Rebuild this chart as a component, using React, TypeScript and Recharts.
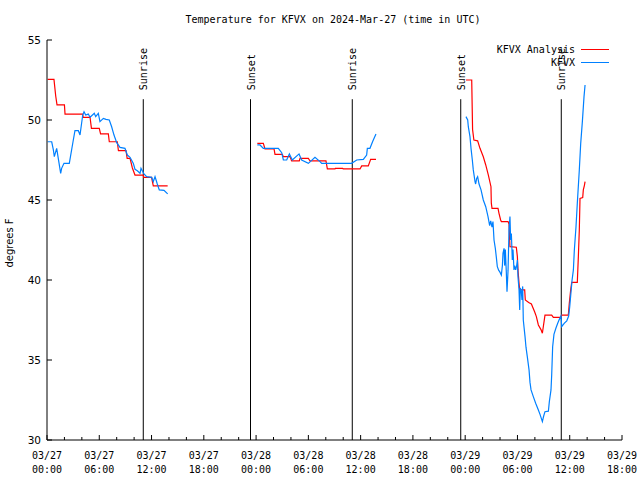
import React from "react"
import { LineChart, Line, XAxis, YAxis, ReferenceLine, Customized } from "recharts"

// [hour since 03/27 00:00 UTC, temperature °F]
const analysisDay1: [number, number][] = [
  [0.08, 52.54], [0.8, 52.54], [1.0, 51.5], [1.15, 50.94], [2.0, 50.94], [2.07, 50.37],
  [4.1, 50.37], [4.15, 50.17], [4.94, 50.17], [5.1, 49.48], [6.0, 49.48], [6.15, 49.13],
  [7.04, 49.13], [7.15, 48.64], [8.07, 48.64], [8.2, 48.08], [9.07, 48.08], [9.2, 47.6],
  [9.53, 47.6], [9.8, 47.0], [10.1, 46.56], [11.05, 46.56], [11.1, 46.42], [12.0, 46.42],
  [12.2, 45.88], [13.85, 45.88],
]
const analysisDay2: [number, number][] = [
  [24.14, 48.54], [24.83, 48.54], [25.02, 48.19], [26.06, 48.19], [26.17, 47.85], [27.01, 47.85],
  [27.13, 47.71], [27.89, 47.71], [28.08, 47.44], [28.96, 47.44], [29.04, 47.6], [30.0, 47.6],
  [30.19, 47.44], [32.02, 47.44], [32.18, 46.94], [33.06, 46.94], [33.1, 46.98], [33.94, 46.98],
  [34.0, 46.94], [35.93, 46.94], [36.12, 47.13], [36.88, 47.13], [37.15, 47.54], [37.76, 47.54],
]
const analysisDay3: [number, number][] = [
  [48.09, 52.5], [48.75, 52.5], [48.85, 49.4], [49.0, 48.75], [49.43, 48.7], [49.7, 48.23],
  [50.08, 47.7], [50.36, 47.19], [50.66, 46.56], [50.96, 45.83], [51.0, 44.8], [51.08, 44.48],
  [51.77, 44.48], [51.88, 44.17], [52.07, 43.75], [52.15, 43.65], [52.92, 43.65], [53.03, 43.5],
  [53.14, 42.08], [53.87, 42.05], [53.99, 41.46], [54.06, 40.63], [54.18, 39.8], [54.26, 39.38],
  [54.83, 39.38], [54.9, 38.75], [55.29, 38.6], [55.6, 38.5], [55.98, 38.0], [56.17, 37.71],
  [56.4, 37.19], [56.7, 36.9], [56.86, 36.67], [57.16, 37.81], [57.93, 37.81], [58.12, 37.67],
  [59.0, 37.67], [59.08, 37.81], [59.84, 37.81], [59.95, 38.54], [60.11, 39.38], [60.23, 39.85],
  [60.87, 39.85], [60.99, 41.46], [61.1, 43.13], [61.18, 45.1], [61.49, 45.15], [61.56, 45.63],
  [61.68, 45.9], [61.76, 46.15],
]

const obsDay1: [number, number][] = [
  [0.08, 48.64], [0.54, 48.64], [0.73, 48.13], [0.84, 47.71], [1.11, 48.23], [1.57, 46.67],
  [1.68, 46.98], [1.95, 47.29], [2.56, 47.29], [3.02, 48.75], [3.21, 49.33], [3.6, 49.33],
  [3.79, 49.06], [4.1, 50.31], [4.25, 50.52], [4.44, 50.31], [4.74, 50.37], [4.94, 50.17],
  [5.43, 50.42], [5.59, 50.21], [5.89, 50.42], [6.08, 49.9], [6.47, 50.1], [6.77, 50.04],
  [7.15, 50.0], [7.42, 49.58], [7.69, 49.06], [8.0, 48.58], [8.38, 48.29], [8.95, 48.23],
  [9.22, 47.81], [9.53, 47.67], [9.91, 47.29], [10.1, 46.92], [10.37, 46.83], [10.68, 46.67],
  [10.79, 46.98], [11.13, 46.63], [11.44, 46.46], [12.02, 46.42], [12.2, 46.15], [12.4, 46.46],
  [12.66, 46.0], [12.89, 45.63], [13.43, 45.6], [13.85, 45.38],
]
const obsDay2: [number, number][] = [
  [24.14, 48.44], [24.45, 48.44], [24.83, 48.23], [26.55, 48.23], [26.94, 47.96], [27.13, 47.5],
  [27.51, 47.5], [27.82, 47.88], [28.16, 47.5], [28.93, 47.88], [29.23, 47.5], [30.0, 47.29],
  [30.76, 47.67], [31.34, 47.4], [31.53, 47.29], [34.97, 47.29], [35.55, 47.5], [36.31, 47.54],
  [36.69, 47.81], [36.77, 48.23], [37.07, 48.23], [37.38, 48.65], [37.76, 49.13],
]
const obsDay3: [number, number][] = [
  [48.09, 50.21], [48.29, 50.0], [48.36, 49.58], [48.55, 48.96], [48.67, 48.23], [48.82, 47.5],
  [48.93, 46.88], [49.13, 46.15], [49.2, 46.0], [49.32, 46.35], [49.43, 46.46], [49.59, 46.0],
  [49.82, 45.63], [50.08, 45.0], [50.36, 44.58], [50.62, 43.96], [50.81, 43.4], [50.93, 43.7],
  [51.08, 43.3], [51.19, 43.65], [51.31, 42.5], [51.46, 41.98], [51.58, 41.4], [51.69, 40.83],
  [51.85, 40.6], [51.96, 40.52], [52.15, 40.31], [52.27, 40.9], [52.34, 41.67], [52.46, 41.98],
  [52.53, 40.9], [52.61, 41.9], [52.72, 40.5], [52.8, 39.27], [52.92, 40.6], [53.03, 43.13],
  [53.14, 43.96], [53.22, 42.5], [53.3, 42.9], [53.41, 41.25], [53.49, 41.9], [53.6, 40.63],
  [53.68, 40.9], [53.8, 40.63], [53.91, 40.9], [53.99, 41.25], [54.06, 40.2], [54.18, 39.38],
  [54.26, 38.13], [54.33, 39.5], [54.44, 39.3], [54.52, 38.75], [54.6, 39.6], [54.67, 37.5],
  [54.87, 36.46], [54.98, 35.8], [55.13, 35.21], [55.33, 34.38], [55.44, 33.6], [55.56, 33.13],
  [55.82, 32.71], [56.09, 32.3], [56.4, 31.88], [56.59, 31.6], [56.86, 31.15], [57.01, 31.5],
  [57.16, 31.77], [57.55, 31.8], [57.66, 32.4], [57.85, 33.13], [57.93, 34.06], [58.04, 35.83],
  [58.19, 36.6], [58.42, 37.0], [58.62, 37.3], [58.81, 37.54], [59.0, 37.75], [59.08, 37.08],
  [59.39, 37.3], [59.66, 37.45], [59.88, 37.75], [60.0, 38.33], [60.15, 39.27], [60.27, 40.0],
  [60.42, 40.63], [60.53, 41.88], [60.72, 43.33], [60.87, 44.79], [61.1, 46.88], [61.26, 48.54],
  [61.45, 49.9], [61.64, 51.46], [61.76, 52.19],
]

const sunEvents = [
  { t: 11.05, label: "Sunrise" },
  { t: 23.36, label: "Sunset" },
  { t: 35.04, label: "Sunrise" },
  { t: 47.49, label: "Sunset" },
  { t: 59.03, label: "Sunrise" },
]

const majorTicks = [0, 6, 12, 18, 24, 30, 36, 42, 48, 54, 60, 66]
const minorTicks = [
  0, 2, 4, 6, 8, 10, 12, 14, 16, 18, 20, 22, 24, 26, 28, 30, 32,
  34, 36, 38, 40, 42, 44, 46, 48, 50, 52, 54, 56, 58, 60, 62, 64, 66,
]
const dateLabels = ["03/27", "03/27", "03/27", "03/27", "03/28", "03/28", "03/28", "03/28", "03/29", "03/29", "03/29", "03/29"]
const timeLabels = ["00:00", "06:00", "12:00", "18:00", "00:00", "06:00", "12:00", "18:00", "00:00", "06:00", "12:00", "18:00"]
const yTicks = [30, 35, 40, 45, 50, 55]

const MONO = "'DejaVu Sans Mono', monospace"
const SANS = "'DejaVu Sans', sans-serif"

// plot frame edges (chart margins below put the frame here)
const LEFT = 47
const RIGHT = 622
const TOP = 40
const BOTTOM = 440

// join segments, with a null row between them so the line breaks
function toRows(segments: [number, number][][]) {
  const rows: { t: number; v: number | null }[] = []
  segments.forEach((seg, i) => {
    if (i > 0) rows.push({ t: (segments[i - 1][segments[i - 1].length - 1][0] + seg[0][0]) / 2, v: null })
    seg.forEach(([t, v]) => rows.push({ t, v }))
  })
  return rows
}

const analysisRows = toRows([analysisDay1, analysisDay2, analysisDay3])
const obsRows = toRows([obsDay1, obsDay2, obsDay3])

const BottomTick = (props: any) => {
  const { x, payload } = props
  const i = majorTicks.indexOf(payload.value)
  return (
    <g>
      <line x1={x} x2={x} y1={BOTTOM} y2={BOTTOM - (i >= 0 ? 5 : 3)} stroke="#000" />
      {i >= 0 && (
        <text x={x} y={BOTTOM + 19} textAnchor="middle" fontFamily={MONO} fontSize={10} fill="#000">
          {dateLabels[i]}
        </text>
      )}
      {i >= 0 && (
        <text x={x} y={BOTTOM + 33} textAnchor="middle" fontFamily={MONO} fontSize={10} fill="#000">
          {timeLabels[i]}
        </text>
      )}
    </g>
  )
}

const TopTick = (props: any) => {
  const { x, payload } = props
  const major = majorTicks.includes(payload.value)
  return <line x1={x} x2={x} y1={TOP} y2={TOP + (major ? 5 : 3)} stroke="#000" />
}

const LeftTick = (props: any) => {
  const { y, payload } = props
  return (
    <g>
      <line x1={LEFT} x2={LEFT + 5} y1={y} y2={y} stroke="#000" />
      <text x={41} y={y + 4} textAnchor="end" fontFamily={SANS} fontSize={10.5} fill="#000">
        {payload.value}
      </text>
    </g>
  )
}

const RightTick = (props: any) => {
  const { y } = props
  return <line x1={RIGHT} x2={RIGHT - 5} y1={y} y2={y} stroke="#000" />
}

const SunLabel = ({ viewBox, text }: any) => {
  const x = viewBox.x + 4
  const y = viewBox.y - 9
  return (
    <text x={x} y={y} transform={`rotate(-90 ${x} ${y})`} fontFamily={MONO} fontSize={10} fill="#000">
      {text}
    </text>
  )
}

const Decorations = () => (
  <g>
    <text x={333} y={23} textAnchor="middle" fontFamily={MONO} fontSize={10} fill="#000">
      Temperature for KFVX on 2024-Mar-27 (time in UTC)
    </text>
    <text x={13} y={243} transform="rotate(-90 13 243)" textAnchor="middle" fontFamily={SANS} fontSize={10} fill="#000">
      degrees F
    </text>
    <text x={575} y={53} textAnchor="end" fontFamily={MONO} fontSize={10} fill="#000">KFVX Analysis</text>
    <line x1={581} x2={609} y1={49.5} y2={49.5} stroke="#ff0000" />
    <text x={575} y={66} textAnchor="end" fontFamily={MONO} fontSize={10} fill="#000">KFVX</text>
    <line x1={581} x2={609} y1={62.5} y2={62.5} stroke="#0080ff" />
  </g>
)

export default function App() {
  return (
    <div style={{ position: "absolute", left: 0, top: 0, width: 640, height: 480, background: "#fff" }}>
      <LineChart width={640} height={480} margin={{ top: TOP, right: 640 - RIGHT, bottom: 0, left: 0 }}>
        <XAxis
          xAxisId="b"
          dataKey="t"
          type="number"
          domain={[0, 66]}
          allowDataOverflow
          ticks={minorTicks}
          interval={0}
          height={480 - BOTTOM}
          tickLine={false}
          tick={<BottomTick />}
          axisLine={{ stroke: "#000" }}
        />
        <XAxis
          xAxisId="t"
          orientation="top"
          dataKey="t"
          type="number"
          domain={[0, 66]}
          allowDataOverflow
          ticks={minorTicks}
          interval={0}
          height={0}
          tickLine={false}
          tick={<TopTick />}
          axisLine={{ stroke: "#000" }}
        />
        <YAxis
          yAxisId="l"
          type="number"
          domain={[30, 55]}
          allowDataOverflow
          ticks={yTicks}
          interval={0}
          width={LEFT}
          tickLine={false}
          tick={<LeftTick />}
          axisLine={{ stroke: "#000" }}
        />
        <YAxis
          yAxisId="r"
          orientation="right"
          type="number"
          domain={[30, 55]}
          allowDataOverflow
          ticks={yTicks}
          interval={0}
          width={0}
          tickLine={false}
          tick={<RightTick />}
          axisLine={{ stroke: "#000" }}
        />
        {sunEvents.map((e, i) => (
          <ReferenceLine
            key={i}
            xAxisId="b"
            yAxisId="l"
            segment={[{ x: e.t, y: 30 }, { x: e.t, y: 51.3 }]}
            stroke="#000"
            label={(p: any) => <SunLabel {...p} text={e.label} />}
          />
        ))}
        <Line
          xAxisId="b"
          yAxisId="l"
          data={analysisRows}
          dataKey="v"
          stroke="#ff0000"
          strokeWidth={1.2}
          dot={false}
          activeDot={false}
          connectNulls={false}
          isAnimationActive={false}
        />
        <Line
          xAxisId="b"
          yAxisId="l"
          data={obsRows}
          dataKey="v"
          stroke="#0080ff"
          strokeWidth={1.2}
          dot={false}
          activeDot={false}
          connectNulls={false}
          isAnimationActive={false}
        />
        <Customized component={Decorations} />
      </LineChart>
    </div>
  )
}
